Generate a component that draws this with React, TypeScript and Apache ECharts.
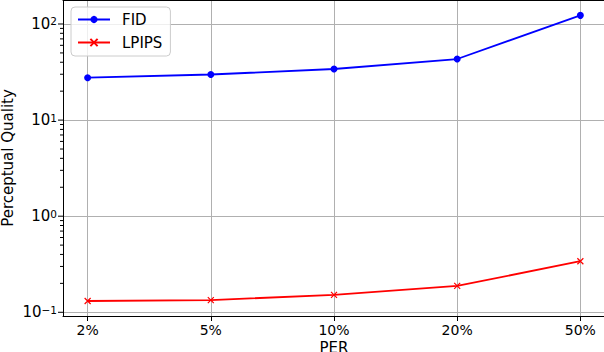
import React, { useEffect, useRef } from 'react';
import * as echarts from 'echarts';

const categories = ['2%', '5%', '10%', '20%', '50%'];
const fidValues = [27.6, 29.8, 34.0, 43.2, 123];
const lpipsValues = [0.131, 0.134, 0.152, 0.188, 0.34];
const yMajorTicks = [0.1, 1, 10, 100];
const yMinorTicks = [
  0.2, 0.3, 0.4, 0.5, 0.6, 0.7, 0.8, 0.9,
  2, 3, 4, 5, 6, 7, 8, 9,
  20, 30, 40, 50, 60, 70, 80, 90,
];
const xTicks = [0, 1, 2, 3, 4];

const FONT = 'DejaVu Sans';

export default function App() {
  const ref = useRef<HTMLDivElement>(null);
  useEffect(() => {
    if (!ref.current) return;
    const chart = echarts.init(ref.current, undefined, { renderer: 'svg' });
    const toPairs = (vals: number[]) => vals.map((v, i) => [i, v]);
    const supMap: Record<string, string> = { '-1': '−1', '0': '0', '1': '1', '2': '2' };
    const option: any = {
      animation: false,
      textStyle: { fontFamily: FONT },
      grid: { left: 63, right: -1, top: 0, bottom: 36, containLabel: false, outerBoundsMode: 'none' },
      legend: {
        orient: 'vertical',
        left: 71,
        top: 7,
        padding: [5, 8, 6, 6],
        itemWidth: 32,
        itemHeight: 9,
        itemGap: 8,
        backgroundColor: 'rgba(255,255,255,0.8)',
        borderColor: '#cccccc',
        borderWidth: 1,
        borderRadius: 4,
        data: ['FID', 'LPIPS'],
        textStyle: { fontFamily: FONT, fontSize: 15, color: '#000', lineHeight: 15, padding: [0, 0, 0, 7] },
      },
      xAxis: [
        {
          type: 'value',
          min: -0.2,
          max: 4.2,
          name: 'PER',
          nameLocation: 'middle',
          nameGap: 24,
          nameMoveOverlap: false,
          nameTextStyle: { fontFamily: FONT, fontSize: 15, color: '#000' },
          axisLine: { show: true, onZero: false, lineStyle: { color: '#000', width: 1 } },
          axisTick: { show: true, length: 5, customValues: xTicks, lineStyle: { color: '#000', width: 1 } },
          axisLabel: {
            customValues: xTicks,
            margin: 7,
            fontFamily: FONT,
            fontSize: 14,
            color: '#000',
            formatter: (v: number) => categories[Math.round(v)] ?? '',
          },
          splitLine: { show: true, lineStyle: { color: '#b0b0b0', width: 1 } },
        },
        {
          type: 'value',
          position: 'top',
          min: -0.2,
          max: 4.2,
          axisLine: { show: true, onZero: false, lineStyle: { color: '#000', width: 1 } },
          axisTick: { show: false },
          axisLabel: { show: false },
          splitLine: { show: false },
        },
      ],
      yAxis: {
        type: 'log',
        logBase: 10,
        min: 0.0915,
        max: 177.7,
        name: 'Perceptual Quality',
        nameLocation: 'middle',
        nameGap: 48,
        nameMoveOverlap: false,
        nameTextStyle: { fontFamily: FONT, fontSize: 15, color: '#000' },
        axisLine: { show: true, onZero: false, lineStyle: { color: '#000', width: 1 } },
        axisTick: { show: false },
        axisLabel: {
          customValues: yMajorTicks,
          margin: 6,
          formatter: (v: number) => {
            const e = String(Math.round(Math.log10(v)));
            return '{b|10}{s|' + (supMap[e] ?? e) + '}';
          },
          rich: {
            b: { fontFamily: FONT, fontSize: 15, color: '#000', lineHeight: 16 },
            s: { fontFamily: FONT, fontSize: 10.5, color: '#000', lineHeight: 10, verticalAlign: 'top' },
          },
        },
        splitLine: { show: true, lineStyle: { color: '#b0b0b0', width: 1 } },
      },
      series: [
        {
          name: 'FID',
          type: 'line',
          data: toPairs(fidValues),
          color: '#0000ff',
          symbol: 'circle',
          symbolSize: 7,
          lineStyle: { color: '#0000ff', width: 1.8 },
          itemStyle: { color: '#0000ff' },
        },
        {
          name: 'LPIPS',
          type: 'line',
          data: toPairs(lpipsValues),
          color: '#ff0000',
          symbol: 'path://M0,0L10,10M10,0L0,10',
          symbolSize: 6,
          lineStyle: { color: '#ff0000', width: 1.8 },
          itemStyle: { color: 'none', borderColor: '#ff0000', borderWidth: 1.2 },
        },
        {
          name: 'yticks',
          type: 'custom',
          silent: true,
          clip: false,
          data: [
            ...yMajorTicks.map((v) => [0, v, 5]),
            ...yMinorTicks.map((v) => [0, v, 3]),
          ],
          renderItem: (params: any, api: any) => {
            const p = api.coord([0, api.value(1)]);
            const x0 = params.coordSys.x;
            const len = api.value(2);
            return {
              type: 'line',
              shape: { x1: x0 - len, y1: p[1], x2: x0, y2: p[1] },
              style: { stroke: '#000', lineWidth: 1 },
            };
          },
        },
      ],
    };
    chart.setOption(option);
    return () => chart.dispose();
  }, []);
  return <div ref={ref} style={{ width: 604, height: 352, position: 'absolute', left: 0, top: 0 }} />;
}
